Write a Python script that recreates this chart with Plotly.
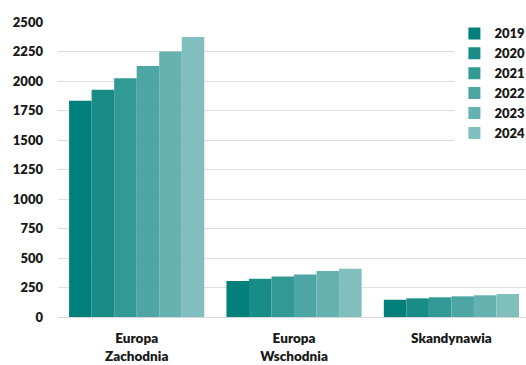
import plotly.graph_objects as go

categories = ["Europa<br>Zachodnia", "Europa<br>Wschodnia", "Skandynawia"]
years = ["2019", "2020", "2021", "2022", "2023", "2024"]
values_2019 = [1833, 305, 146]
values_2020 = [1926, 324, 158]
values_2021 = [2024, 343, 167]
values_2022 = [2128, 361, 175]
values_2023 = [2249, 389, 184]
values_2024 = [2373, 409, 195]
series = [values_2019, values_2020, values_2021, values_2022, values_2023, values_2024]
colors = ["#007F7B", "#1A8C88", "#339995", "#4DA6A3", "#66B2B0", "#80BFBD"]
y_ticks = [0, 250, 500, 750, 1000, 1250, 1500, 1750, 2000, 2250, 2500]

FONT = "Lato"
TXT = "#1a1a1a"
W = 800

fig = go.Figure()
for yr, vals, col in zip(years, series, colors):
    fig.add_trace(go.Bar(
        x=list(range(len(categories))), y=vals, name=yr,
        marker=dict(color=col, line=dict(width=0)),
    ))

fig.update_layout(
    width=526, height=365,
    margin=dict(l=58, r=0, t=22, b=48, autoexpand=False),
    paper_bgcolor="white", plot_bgcolor="white",
    barmode="group", bargap=0.141, bargroupgap=0,
    font=dict(family=FONT, size=13, color=TXT, weight=W),
    legend=dict(
        x=0.847, xanchor="left", y=1.012, yanchor="top",
        bgcolor="white", tracegroupgap=0, itemclick=False,
        font=dict(family=FONT, size=13, color=TXT, weight=W),
        traceorder="normal", itemwidth=30,
    ),
    xaxis=dict(
        tickmode="array", tickvals=list(range(len(categories))), ticktext=categories,
        range=[-0.5, 2.474], showgrid=False, showline=True, linecolor="#d9d9d9",
        linewidth=1, ticks="", zeroline=False, automargin=False,
        ticklabelstandoff=9,
        tickfont=dict(family=FONT, size=13.5, color=TXT, weight=W),
    ),
    yaxis=dict(
        range=[0, 2500], tickvals=y_ticks, showgrid=True, gridcolor="#dedede",
        gridwidth=1, zeroline=False, showline=False, ticks="", automargin=False,
        ticklabelstandoff=14,
        tickfont=dict(family=FONT, size=13, color=TXT, weight=W),
    ),
)

fig.write_html(
    "out.html",
    config={"displayModeBar": False},
    post_script="document.body.style.margin='0';document.body.style.overflow='hidden';",
)
